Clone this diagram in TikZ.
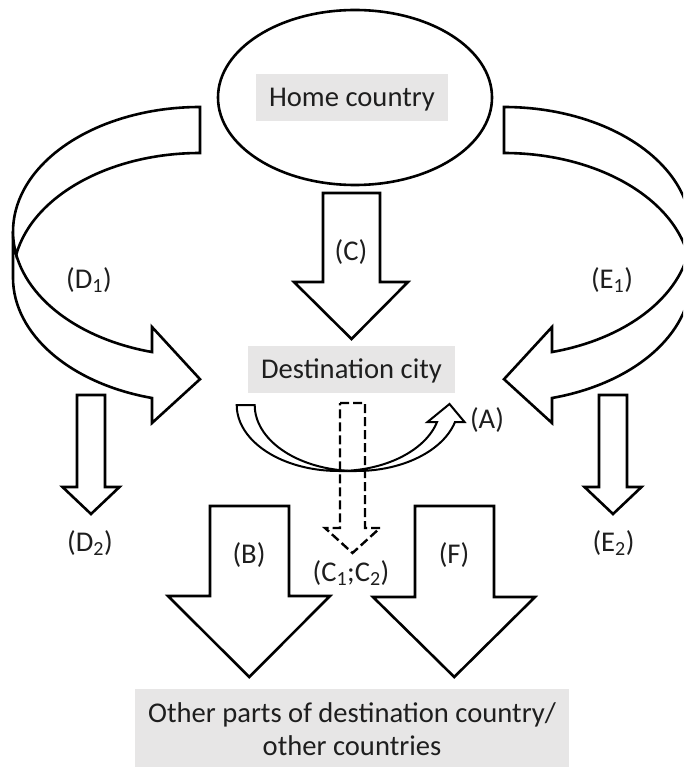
\documentclass[tikz,border=0pt]{standalone}
\usepackage{fontspec}
\setmainfont{Carlito}
\usetikzlibrary{shapes.geometric}
\definecolor{boxgray}{HTML}{E7E6E6}
\definecolor{txt}{HTML}{1E1E1E}
\newcommand\lblfont{\fontsize{28.6}{33.5}\selectfont}
\begin{document}
\begin{tikzpicture}[x=1pt,y=1pt,
  blockarrow/.style={line width=2.6pt, line join=miter, fill=white},
  thinarrow/.style={line width=2pt, line join=miter, fill=white},
  dasharrow/.style={line width=2.4pt, line join=miter, dash pattern=on 9pt off 4pt},
  graybox/.style={fill=boxgray, text=txt, inner xsep=13.5pt, inner ysep=10.5pt, text height=22pt, text depth=4pt, font=\lblfont},
  lbl/.style={inner sep=0pt, anchor=base, text=txt, font=\lblfont}]
\useasboundingbox (0,0) rectangle (683,-767);
\fill[white] (0,0) rectangle (683,-767);
\clip (0,0) rectangle (683,-767);

% Home country
\node[ellipse, draw, line width=2.6pt, minimum width=274pt, minimum height=175pt, inner sep=0pt] (home) at (355,-97.5) {};
\node[graybox] (homelbl) at (352,-97.5) {Home country};

% (C) arrow
\draw[blockarrow] (323,-193) -- (380,-193) -- (380,-282) -- (408,-282) -- (351.5,-339) -- (294,-282) -- (323,-282) -- cycle;

% D1 curved arrow
\draw[blockarrow] (13,-231.6) arc[start angle=180,end angle=255.13,x radius=187,y radius=124.6]
  -- (152,-327) -- (200,-379.2) -- (152,-423) -- (152,-398)
  arc[start angle=255.13,end angle=180,x radius=187,y radius=124.6] -- cycle;
\draw[blockarrow] (200,-153) -- (200,-107)
  arc[start angle=90,end angle=190.64,x radius=187,y radius=124.6]
  arc[start angle=169.36,end angle=90,x radius=187,y radius=124.6] -- cycle;

% E1 curved arrow (mirror of D1)
\begin{scope}[xshift=704pt, xscale=-1]
\draw[blockarrow] (13,-231.6) arc[start angle=180,end angle=255.13,x radius=187,y radius=124.6]
  -- (152,-327) -- (200,-379.2) -- (152,-423) -- (152,-398)
  arc[start angle=255.13,end angle=180,x radius=187,y radius=124.6] -- cycle;
\draw[blockarrow] (200,-153) -- (200,-107)
  arc[start angle=90,end angle=190.64,x radius=187,y radius=124.6]
  arc[start angle=169.36,end angle=90,x radius=187,y radius=124.6] -- cycle;
\end{scope}

% Destination city
\node[graybox] (dest) at (351.5,-369.5) {Destination city};

% D2 and E2 arrows
\draw[blockarrow] (77,-395) -- (105,-395) -- (105,-487) -- (119.5,-487) -- (91,-514) -- (62.5,-487) -- (77,-487) -- cycle;
\draw[blockarrow] (599,-395) -- (627,-395) -- (627,-487) -- (641.5,-487) -- (613,-514) -- (584.5,-487) -- (599,-487) -- cycle;

% (A) U-shaped arrow
\draw[thinarrow] (338.6,-471) arc[start angle=270,end angle=345.07,x radius=101.9,y radius=66]
  -- (427.5,-422) -- (449.5,-404) -- (464.5,-422) -- (455,-422)
  arc[start angle=345.07,end angle=270,x radius=101.9,y radius=66] -- cycle;
\draw[thinarrow] (254.7,-405) -- (236.7,-405)
  arc[start angle=180,end angle=275.07,x radius=101.9,y radius=66]
  arc[start angle=264.93,end angle=180,x radius=101.9,y radius=66] -- cycle;

% dashed (C1;C2) arrow
\draw[dasharrow] (340,-403) -- (365,-403) -- (365,-528) -- (380,-528) -- (352.5,-553) -- (325,-528) -- (340,-528) -- cycle;

% (B) and (F) arrows
\draw[blockarrow] (210,-506) -- (289,-506) -- (289,-596) -- (330,-596) -- (249.25,-677) -- (168,-596) -- (210,-596) -- cycle;
\draw[blockarrow] (415,-506) -- (494,-506) -- (494,-597) -- (535,-597) -- (454.25,-677) -- (373,-597) -- (415,-597) -- cycle;

% bottom box
\node[graybox, align=center, anchor=north, text height=55.5pt, text depth=4pt, inner ysep=11pt] (other) at (352,-689) {Other parts of destination country/\\other countries};

% labels
\node[lbl] (lC) at (351,-260) {(C)};
\node[lbl] (lD1) at (89,-288) {(D\textsubscript{1})};
\node[lbl] (lE1) at (612,-288) {(E\textsubscript{1})};
\node[lbl] (lD2) at (90,-551.5) {(D\textsubscript{2})};
\node[lbl] (lE2) at (613.5,-551.5) {(E\textsubscript{2})};
\node[lbl] (lA) at (487,-428) {(A)};
\node[lbl] (lB) at (249,-563) {(B)};
\node[lbl] (lF) at (454,-563) {(F)};
\node[lbl] (lC12) at (351,-581.5) {(C\textsubscript{1};C\textsubscript{2})};
\end{tikzpicture}
\end{document}
